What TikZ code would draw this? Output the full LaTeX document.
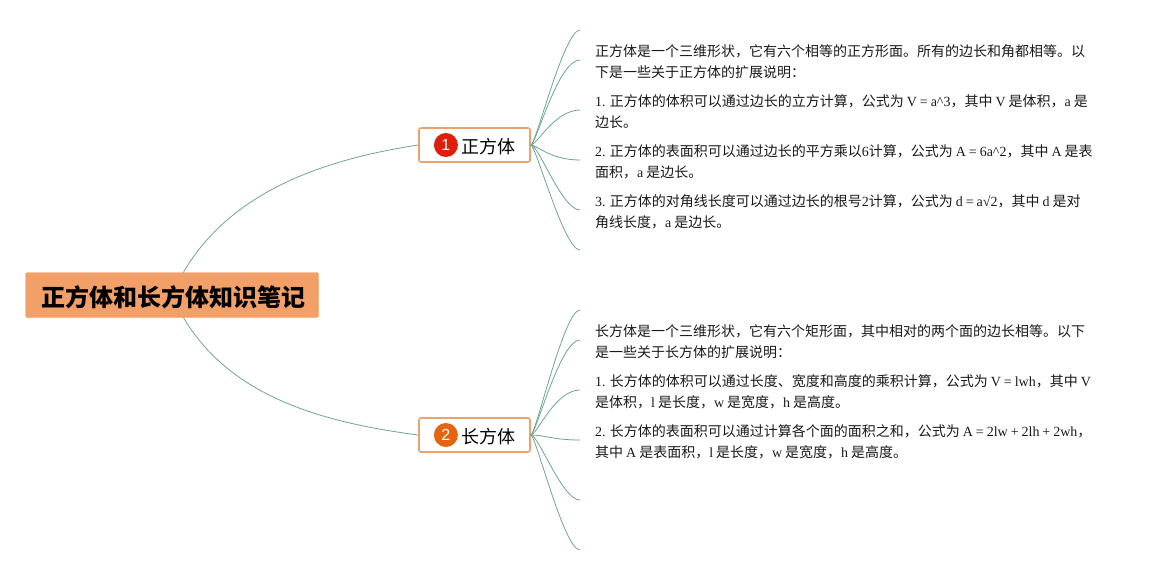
\documentclass[tikz,border=0pt]{standalone}
\usepackage{fontspec}
\usetikzlibrary{positioning,backgrounds}
\setmainfont{Noto Sans CJK SC}
\newfontfamily\latfont[WordSpace=0.85]{Liberation Serif}
\newfontfamily\markfont{Liberation Sans}
\newcommand{\lat}[1]{{\latfont #1}}
\tikzset{
    rootbox/.style={draw=rootfill, fill=rootfill, rounded corners=2pt, minimum width=293pt, minimum height=45pt, inner sep=0pt, font=\fontsize{24}{28}\selectfont\bfseries},
    topicbox/.style={draw=topicline, fill=white, line width=1.6pt, rounded corners=2pt, minimum width=111pt, minimum height=34pt, inner sep=0pt, font=\fontsize{18}{22}\selectfont},
    badge/.style={circle, minimum size=24pt, inner sep=0pt, text=white, font=\fontsize{16}{20}\markfont},
    para/.style={anchor=west, align=left, inner sep=0pt, font=\fontsize{14}{21}\selectfont, text=black!90},
    branch/.style={draw=linegreen, line width=0.8pt},
}
\definecolor{rootfill}{HTML}{F3A068}
\definecolor{topicline}{HTML}{EDA26C}
\definecolor{linegreen}{HTML}{6BA595}
\definecolor{badgeone}{HTML}{DF1F0B}
\definecolor{badgetwo}{HTML}{E4640F}
\begin{document}
\begin{tikzpicture}[x=1pt, y=-1pt]
    \useasboundingbox (0,0) rectangle (1155,575);
    \coordinate (a1) at (580,30);
    \coordinate (a2) at (580,60);
    \coordinate (a3) at (580,110);
    \coordinate (a4) at (580,160);
    \coordinate (a5) at (580,210);
    \coordinate (a6) at (580,250);
    \coordinate (b1) at (580,310);
    \coordinate (b2) at (580,340);
    \coordinate (b3) at (580,390);
    \coordinate (b4) at (580,440);
    \coordinate (b5) at (580,500);
    \coordinate (b6) at (580,550);
    \node[topicbox] (cube) at (474.5,145) {\hspace{27pt}\raisebox{-1.5pt}[\height][\depth]{正方体}};
    \node[topicbox] (cuboid) at (474.5,435) {\hspace{27pt}\raisebox{-1.5pt}[\height][\depth]{长方体}};
    \node[badge, fill=badgeone, right=15.5pt of cube.west] (cubemark) {1};
    \node[badge, fill=badgetwo, right=15.5pt of cuboid.west] (cuboidmark) {2};
    \node[rootbox] (root) at (172,295) {\hspace{2pt}\raisebox{-2pt}[\height][\depth]{正方体和长方体知识笔记}};
    \begin{scope}[on background layer]
        \draw[branch] (root.center) .. controls (215,195) and (320,160) .. (cube.west);
        \draw[branch] (root.center) .. controls (215,395) and (320,422) .. (cuboid.west);
    \end{scope}
    \draw[branch] (cube.east) .. controls +(5,0) and +(-16,0) .. (a1);
    \draw[branch] (cube.east) .. controls +(5,0) and +(-22,0) .. (a2);
    \draw[branch] (cube.east) .. controls +(6,0) and +(-25,0) .. (a3);
    \draw[branch] (cube.east) .. controls +(6,0) and +(-30,0) .. (a4);
    \draw[branch] (cube.east) .. controls +(8,0) and +(-18,0) .. (a5);
    \draw[branch] (cube.east) .. controls +(5,0) and +(-16,0) .. (a6);
    \draw[branch] (cuboid.east) .. controls +(5,0) and +(-16,0) .. (b1);
    \draw[branch] (cuboid.east) .. controls +(5,0) and +(-20,0) .. (b2);
    \draw[branch] (cuboid.east) .. controls +(6,0) and +(-25,0) .. (b3);
    \draw[branch] (cuboid.east) .. controls +(14,0) and +(-27,0) .. (b4);
    \draw[branch] (cuboid.east) .. controls +(8,0) and +(-18,0) .. (b5);
    \draw[branch] (cuboid.east) .. controls +(5,0) and +(-16,0) .. (b6);
    \node[para] (cubetext0) at (595,61.5) {正方体是一个三维形状，它有六个相等的正方形面。所有的边长和角都相等。以\\下是一些关于正方体的扩展说明：};
    \node[para] (cubetext1) at (595,111.5) {\lat{1. }正方体的体积可以通过边长的立方计算，公式为\lat{ V = a\textasciicircum 3}，其中\lat{ V }是体积，\lat{a }是\\边长。};
    \node[para] (cubetext2) at (595,161.5) {\lat{2. }正方体的表面积可以通过边长的平方乘以\lat{6}计算，公式为\lat{ A = 6a\textasciicircum 2}，其中\lat{ A }是表\\面积，\lat{a }是边长。};
    \node[para] (cubetext3) at (595,211.5) {\lat{3. }正方体的对角线长度可以通过边长的根号\lat{2}计算，公式为\lat{ d = a√2}，其中\lat{ d }是对\\角线长度，\lat{a }是边长。};
    \node[para] (cuboidtext0) at (595,341.5) {长方体是一个三维形状，它有六个矩形面，其中相对的两个面的边长相等。以下\\是一些关于长方体的扩展说明：};
    \node[para] (cuboidtext1) at (595,391.5) {\lat{1. }长方体的体积可以通过长度、宽度和高度的乘积计算，公式为\lat{ V = lwh}，其中\lat{ V}\\是体积，\lat{l }是长度，\lat{w }是宽度，\lat{h }是高度。};
    \node[para] (cuboidtext2) at (595,441.5) {\lat{2. }长方体的表面积可以通过计算各个面的面积之和，公式为\lat{ A = 2lw + 2lh + 2wh}，\\其中\lat{ A }是表面积，\lat{l }是长度，\lat{w }是宽度，\lat{h }是高度。};
\end{tikzpicture}
\end{document}
